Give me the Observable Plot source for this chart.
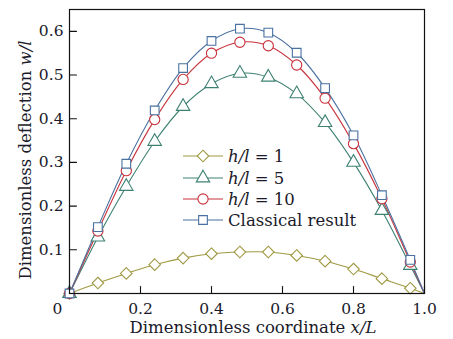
<!DOCTYPE html>
<html>
<head>
<meta charset="utf-8">
<script src="https://cdn.jsdelivr.net/npm/d3@7"></script>
<script src="https://cdn.jsdelivr.net/npm/@observablehq/plot@0.6"></script>
<style>
  html, body { margin: 0; padding: 0; background: #fff; }
  svg { font-family: "DejaVu Serif", serif; }
</style>
</head>
<body>
<div id="chart"></div>
<script>
// Data
const xPts = [0, 0.08, 0.16, 0.24, 0.32, 0.40, 0.48, 0.56, 0.64, 0.72, 0.80, 0.88, 0.96];
const hl1 = [0, 0.024, 0.046, 0.066, 0.081, 0.091, 0.095, 0.095, 0.087, 0.074, 0.056, 0.034, 0.012];
const hl5 = [0, 0.129, 0.245, 0.348, 0.428, 0.480, 0.504, 0.495, 0.457, 0.391, 0.300, 0.190, 0.064];
const hl10 = [0, 0.143, 0.281, 0.398, 0.490, 0.550, 0.575, 0.567, 0.523, 0.447, 0.343, 0.217, 0.072];
const classical = [0, 0.152, 0.297, 0.419, 0.516, 0.578, 0.606, 0.597, 0.551, 0.470, 0.362, 0.225, 0.077];
const endX = 1.0, endY = 0;
const xTicks = [0.2, 0.4, 0.6, 0.8, 1.0];
const yTicks = [0.1, 0.2, 0.3, 0.4, 0.5, 0.6];
const originLabel = ["0"];

const seriesNames = ["h/l = 1", "h/l = 5", "h/l = 10", "Classical result"];
const seriesValues = [hl1, hl5, hl10, classical];
const seriesColors = ["#a09a45", "#3d8172", "#c8323c", "#4a71a0"];
const seriesSymbols = ["diamond2", "triangle", "circle", "square"];
const seriesR = [5.2, 5.0, 5.1, 4.9];

const markerRows = [];
const lineRows = [];
seriesNames.forEach((name, i) => {
  xPts.forEach((x, j) => {
    markerRows.push({s: i, x, y: seriesValues[i][j]});
    lineRows.push({s: i, x, y: seriesValues[i][j]});
  });
  lineRows.push({s: i, x: endX, y: endY});
});

const marks = [];
seriesNames.forEach((name, i) => {
  marks.push(Plot.line(lineRows.filter(d => d.s === i), {
    x: "x", y: "y", stroke: seriesColors[i], strokeWidth: 1.1, curve: "catmull-rom"
  }));
});
seriesNames.forEach((name, i) => {
  marks.push(Plot.dot(markerRows.filter(d => d.s === i), {
    x: "x", y: "y", stroke: seriesColors[i], fill: "white", strokeWidth: 1.1,
    symbol: seriesSymbols[i], r: seriesR[i]
  }));
});

// simple straight tick shape for inward ticks
const tickShape = {draw(context, l) { context.moveTo(0, 0); context.lineTo(0, -l); }};

const ink = "#1a1a2a";
const plot = Plot.plot({
  width: 453,
  height: 339,
  marginLeft: 69,
  marginRight: 29,
  marginTop: 9,
  marginBottom: 46,
  style: {fontFamily: "DejaVu Serif, serif", fontSize: "15.5px", color: ink, background: "white"},
  x: {domain: [0, 1]},
  y: {domain: [0, 0.65]},
  marks: [
    Plot.axisX({ticks: xTicks, tickSize: 0, tickPadding: 9, tickFormat: d => d.toFixed(1), label: null, fontSize: 15.5}),
    Plot.axisY({ticks: yTicks, tickSize: 0, tickPadding: 6, tickFormat: d => d.toFixed(1), label: null, fontSize: 15.5}),
    // inward tick marks
    Plot.vector(xTicks, {x: d => d, frameAnchor: "bottom", length: 7, rotate: 0, anchor: "start", shape: tickShape, stroke: "#111", strokeWidth: 1.1}),
    Plot.vector(yTicks, {y: d => d, frameAnchor: "left", length: 7, rotate: 90, anchor: "start", shape: tickShape, stroke: "#111", strokeWidth: 1.1}),
    ...marks,
    Plot.text(originLabel, {frameAnchor: "bottom-left", text: d => d, textAnchor: "middle", lineAnchor: "middle", dx: -12, dy: 16, fontSize: 15.5, fill: ink}),
    Plot.frame({stroke: "#111", strokeWidth: 1.2})
  ]
});

document.getElementById("chart").appendChild(plot);

// Axis titles with italic parts and the legend
const svg = d3.select(plot);

const xt = svg.append("text")
  .attr("x", 253).attr("y", 333)
  .attr("text-anchor", "middle")
  .attr("font-size", 16.5).attr("fill", ink);
xt.append("tspan").text("Dimensionless coordinate ");
xt.append("tspan").attr("font-style", "italic").text("x/L");

const yt = svg.append("text")
  .attr("transform", "translate(31,160) rotate(-90)")
  .attr("text-anchor", "middle")
  .attr("font-size", 16.5).attr("fill", ink);
yt.append("tspan").text("Dimensionless deflection ");
yt.append("tspan").attr("font-style", "italic").text("w/l");

const legendRows = [156, 178, 199, 220];
const symMap = {diamond2: d3.symbolDiamond2, triangle: d3.symbolTriangle, circle: d3.symbolCircle, square: d3.symbolSquare};
seriesNames.forEach((name, i) => {
  const g = svg.append("g").attr("transform", `translate(0,${legendRows[i]})`);
  g.append("line").attr("x1", 183).attr("x2", 223).attr("y1", 0).attr("y2", 0)
    .attr("stroke", seriesColors[i]).attr("stroke-width", 1.1);
  g.append("path")
    .attr("transform", "translate(203,0)")
    .attr("d", d3.symbol(symMap[seriesSymbols[i]], Math.PI * seriesR[i] * seriesR[i])())
    .attr("fill", "white").attr("stroke", seriesColors[i]).attr("stroke-width", 1.1);
  const t = g.append("text").attr("x", 228).attr("y", 6)
    .attr("text-anchor", "start")
    .attr("font-size", 16.5).attr("fill", ink);
  if (i < 3) {
    const parts = name.split(" = ");
    t.append("tspan").attr("font-style", "italic").text(parts[0]);
    t.append("tspan").text(" = " + parts[1]);
  } else {
    t.text(name);
  }
});
</script>
</body>
</html>
